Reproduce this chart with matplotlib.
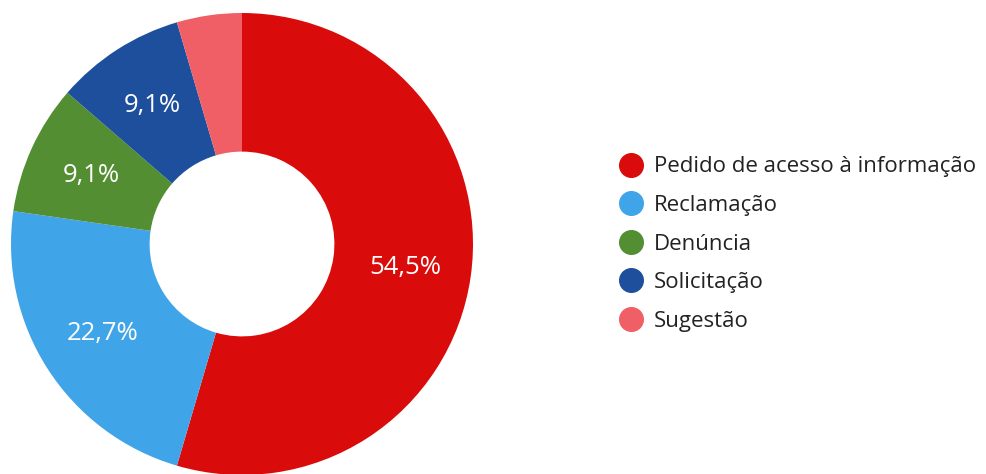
import matplotlib.pyplot as plt
from matplotlib.lines import Line2D

plt.rcParams['font.family'] = ['Open Sans', 'DejaVu Sans']

categorias = ['Pedido de acesso à informação', 'Reclamação', 'Denúncia',
              'Solicitação', 'Sugestão']
quantidades = [12, 5, 2, 2, 1]
cores = ['#D90B0B', '#3FA5E8', '#548E33', '#1D4F9C', '#F05E66']

total = sum(quantidades)


def rotulo(pct):
    # slices below 5% stay unlabelled
    if pct < 5:
        return ''
    return f'{pct:.1f}%'.replace('.', ',')


fig = plt.figure(figsize=(9.87, 4.74), dpi=100)
ax = fig.add_axes([11 / 987, (474 - 244 - 231) / 474, 462 / 987, 462 / 474])

wedges, _, autotexts = ax.pie(quantidades, colors=cores, startangle=90,
                              counterclock=False, radius=1,
                              autopct=rotulo, pctdistance=0.715,
                              wedgeprops=dict(width=0.6, linewidth=0))
for t in autotexts:
    t.set_color('white')
    t.set_fontsize(18.5)
ax.set_xlim(-1, 1)
ax.set_ylim(-1, 1)
ax.set_aspect('equal')
ax.axis('off')

handles = [Line2D([], [], marker='o', linestyle='', markersize=17,
                  markerfacecolor=c, markeredgecolor=c) for c in cores]
fig.legend(handles, categorias, loc='center left',
           bbox_to_anchor=(598 / 987, 1 - 244 / 474), frameon=False,
           fontsize=16, labelspacing=0.79, handletextpad=0.42,
           handlelength=1.2, labelcolor='#222222')

fig.savefig('out.png', dpi=100)
